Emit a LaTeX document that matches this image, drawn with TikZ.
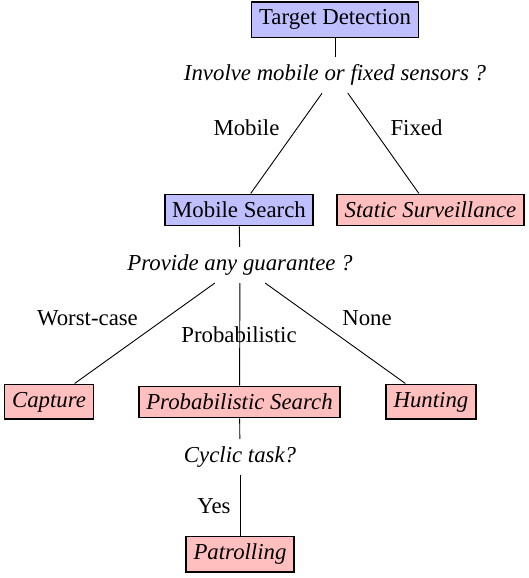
\documentclass[tikz,border=0pt]{standalone}
\usepackage{fontspec}
\setmainfont{Liberation Serif}
\begin{document}
\begin{tikzpicture}[x=1pt,y=1pt,
  base/.style={font=\fontsize{22.8}{27}\selectfont, inner sep=7.5pt},
  box/.style={base, draw, line width=1.8pt, anchor=north},
  bluebox/.style={box, fill=blue!25},
  redbox/.style={box, fill=red!25, font=\fontsize{22.8}{27}\selectfont\itshape},
  question/.style={base, font=\fontsize{22.8}{27}\selectfont\itshape},
  lbl/.style={base},
  conn/.style={line width=0.9pt}]
\useasboundingbox (0,0) rectangle (529,-578);
% boxes
\node[bluebox] (td) at (335,-1.5) {Target Detection};
\node[question] (q1) at (335,-75) {Involve mobile or fixed sensors ?};
\node[bluebox] (ms) at (239,-193.5) {Mobile Search};
\node[redbox] (ss) at (430.5,-193.5) {Static Surveillance};
\node[question] (q2) at (240,-265) {Provide any guarantee ?};
\node[redbox] (cap) at (49,-383.5) {Capture};
\node[redbox] (ps) at (239.5,-385.5) {Probabilistic Search};
\node[redbox] (hunt) at (431,-383.5) {Hunting};
\node[question] (q3) at (240,-457) {Cyclic task?};
\node[redbox] (pat) at (240,-535.5) {Patrolling};
% labels
\node[lbl] (lmob) at (246.5,-128) {Mobile};
\node[lbl] (lfix) at (416.5,-128) {Fixed};
\node[lbl] (lwc) at (87.5,-318) {Worst-case};
\node[lbl] (lprob) at (239,-335) {Probabilistic};
\node[lbl] (lnone) at (367,-318) {None};
\node[lbl] (lyes) at (214,-506) {Yes};
% connectors
\draw[conn] (td) -- (q1);
\draw[conn] (q1) -- (ms);
\draw[conn] (q1) -- (ss);
\draw[conn] (ms) -- (q2);
\draw[conn] (q2) -- (cap);
\draw[conn] (q2) -- (ps);
\draw[conn] (q2) -- (hunt);
\draw[conn] (ps) -- (q3);
\draw[conn] (q3) -- (pat);
\end{tikzpicture}
\end{document}
